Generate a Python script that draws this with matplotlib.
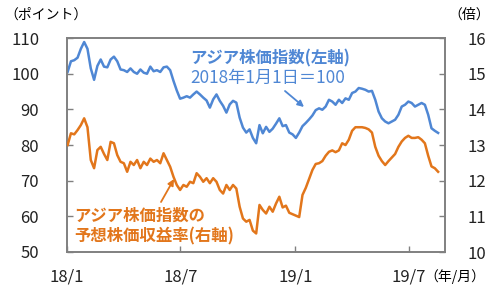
#!/usr/bin/env python3
# アジア株価指数と予想PER (2018/1 - 2019/8)

import pandas as pd
import matplotlib
matplotlib.use("Agg")
import matplotlib.pyplot as plt

plt.rcParams["font.family"] = ["Noto Sans CJK JP", "DejaVu Sans"]

BLUE = "#4F87D4"
ORANGE = "#E2761B"
GRAY = "#808080"

# 株価指数 (左軸, 2018/1/1=100)
index_values = [
    100.5, 103.5, 103.8, 104.5, 107.0, 108.9, 107.0, 101.5, 98.3, 102.2,
    104.0, 102.0, 101.8, 104.0, 104.8, 103.5, 101.2, 101.0, 100.5, 101.5,
    100.5, 100.0, 101.2, 100.3, 100.0, 102.0, 100.7, 101.0, 100.5, 101.8,
    102.0, 101.0, 98.0, 95.3, 93.0, 93.3, 93.7, 93.3, 94.2, 95.0,
    94.2, 93.3, 92.5, 90.5, 92.8, 94.2, 92.4, 91.0, 89.1, 91.4,
    92.4, 91.9, 87.7, 84.9, 83.5, 84.4, 82.0,
    80.5, 85.6, 83.3, 85.1, 83.7, 84.6, 86.0, 87.5, 85.3, 85.6,
    83.5, 83.0, 82.0, 83.5, 85.3, 86.2, 87.2, 88.3, 89.8, 90.3,
    89.9, 90.8, 92.7, 92.2, 91.3, 92.7, 91.8, 93.1, 92.7, 94.6,
    95.0, 96.0, 95.8, 95.5, 95.0, 95.2, 92.7, 89.4, 87.5, 86.6,
    86.1, 86.6, 87.1, 88.5, 90.8, 91.3, 92.2, 91.8, 90.8, 91.3,
    91.8, 91.3, 88.5, 84.7, 84.0, 83.4,
]

# 予想株価収益率 (右軸, 倍)
per_values = [
    13.00, 13.33, 13.30, 13.42, 13.56, 13.75, 13.50, 12.58, 12.35, 12.86,
    12.95, 12.75, 12.58, 13.09, 13.05, 12.72, 12.53, 12.49, 12.25, 12.53,
    12.44, 12.58, 12.35, 12.53, 12.44, 12.62, 12.53, 12.58, 12.49, 12.77,
    12.58, 12.39, 12.11, 11.88, 11.74, 11.88, 11.83, 11.97, 11.93, 12.21,
    12.11, 11.97, 12.07, 11.93, 12.07, 11.97, 11.74, 11.64, 11.88, 11.74,
    11.88, 11.78, 11.27, 10.94, 10.85, 10.90, 10.60,
    10.52, 11.32, 11.18, 11.08, 11.27, 11.13, 11.36, 11.55, 11.25, 11.30,
    11.10, 11.06, 11.02, 10.98, 11.60, 11.80, 12.05, 12.30, 12.47, 12.49,
    12.55, 12.70, 12.81, 12.85, 12.80, 12.85, 13.05, 13.00, 13.15, 13.40,
    13.50, 13.50, 13.50, 13.48, 13.44, 13.35, 12.95, 12.70, 12.55, 12.44,
    12.55, 12.65, 12.75, 12.95, 13.10, 13.20, 13.26, 13.20, 13.20, 13.22,
    13.15, 13.05, 12.70, 12.40, 12.35, 12.25,
]

dates = pd.date_range("2018-01-02", "2019-08-17", periods=len(index_values))

tick_dates = pd.to_datetime(["2018-01-01", "2018-07-01", "2019-01-01", "2019-07-01"])
tick_labels = ["18/1", "18/7", "19/1", "19/7"]


def fig_xy(px, py):
    # 画像ピクセル座標 -> figure fraction
    return px / 500, 1 - py / 300


fig = plt.figure(figsize=(5, 3), dpi=100)
ax = fig.add_axes([0.134, 0.16, 0.756, 0.713])
ax2 = ax.twinx()

ax.plot(dates, index_values, color=BLUE, lw=1.8, zorder=3)
ax2.plot(dates, per_values, color=ORANGE, lw=1.8, zorder=3)

ax.set_ylim(50, 110)
ax.set_yticks(range(50, 111, 10))
ax2.set_ylim(10, 16)
ax2.set_yticks(range(10, 17))
ax.set_xlim(pd.Timestamp("2018-01-01"), pd.Timestamp("2019-08-28"))
ax.set_xticks(tick_dates)
ax.set_xticklabels(tick_labels)

for a in (ax, ax2):
    for s in a.spines.values():
        s.set_color(GRAY)
        s.set_linewidth(1.2)
    a.tick_params(direction="in", length=4, width=1, color=GRAY,
                  labelsize=12, labelcolor="#222222")
ax.tick_params(axis="y", pad=20)
ax.tick_params(axis="x", pad=12)
ax2.tick_params(axis="y", pad=16)

fig.text(*fig_xy(4, 15), "（ポイント）", fontsize=10, va="center", ha="left")
fig.text(*fig_xy(448, 15), "（倍）", fontsize=10, va="center", ha="left")
fig.text(*fig_xy(424, 277), "（年/月）", fontsize=10, va="center", ha="left")

fig.text(*fig_xy(190, 58), "アジア株価指数(左軸)", fontsize=11.8, fontweight="bold",
         color=BLUE, va="center", ha="left")
fig.text(*fig_xy(190, 78), "2018年1月1日＝100", fontsize=12.4,
         color=BLUE, va="center", ha="left")
fig.text(*fig_xy(74, 216), "アジア株価指数の", fontsize=11.8, fontweight="bold",
         color=ORANGE, va="center", ha="left")
fig.text(*fig_xy(74, 236), "予想株価収益率(右軸)", fontsize=11.8, fontweight="bold",
         color=ORANGE, va="center", ha="left")

ax.annotate("", xy=fig_xy(304, 107), xytext=fig_xy(285, 91),
            xycoords="figure fraction", textcoords="figure fraction",
            arrowprops=dict(arrowstyle="-|>", color=BLUE, lw=1.3,
                            mutation_scale=9, shrinkA=0, shrinkB=0))
ax.annotate("", xy=fig_xy(174, 179), xytext=fig_xy(161, 202),
            xycoords="figure fraction", textcoords="figure fraction",
            arrowprops=dict(arrowstyle="-|>", color=ORANGE, lw=1.3,
                            mutation_scale=9, shrinkA=0, shrinkB=0))

fig.savefig("out.png", dpi=100)
